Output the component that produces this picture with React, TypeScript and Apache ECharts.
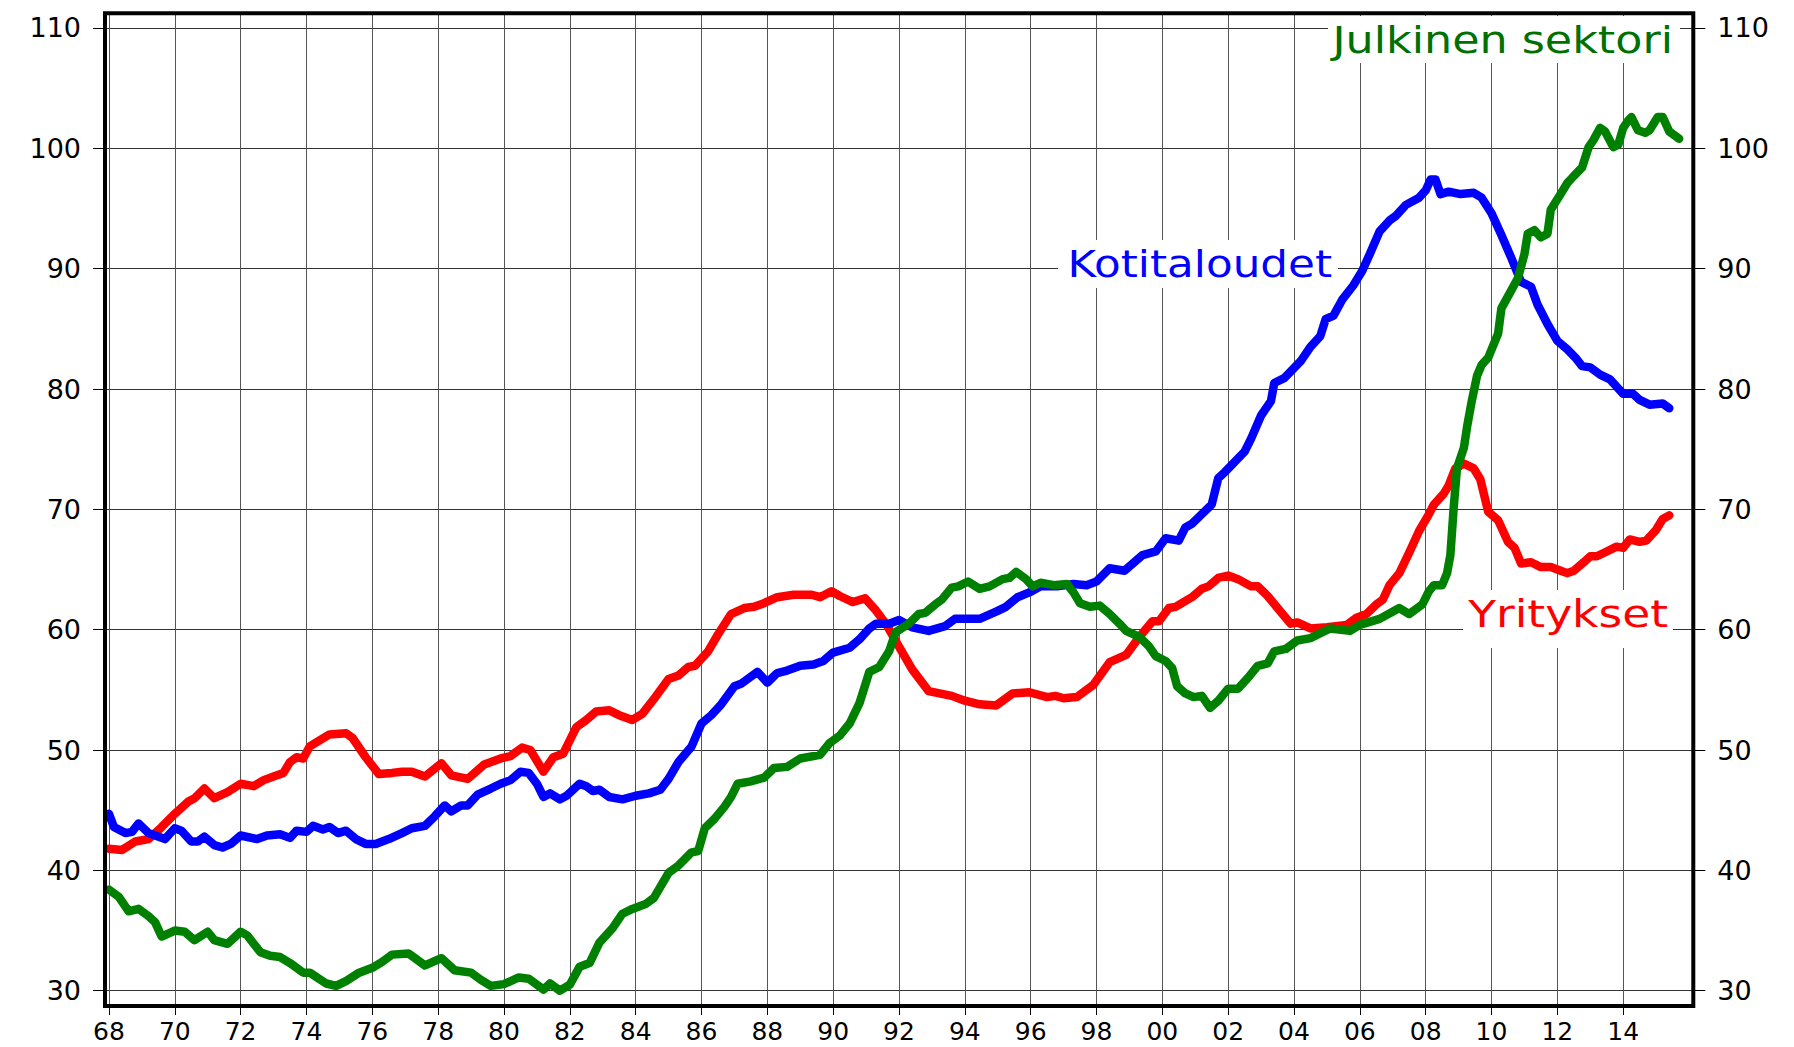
import React, { useEffect, useRef } from "react";
import * as echarts from "echarts";

// Years are given as 68 .. 115 (1900-based), labels shown as two digits
const xTicks = [68, 70, 72, 74, 76, 78, 80, 82, 84, 86, 88, 90, 92, 94, 96, 98, 100, 102, 104, 106, 108, 110, 112, 114];
const yTicks = [30, 40, 50, 60, 70, 80, 90, 100, 110];

const seriesNames = ["Yritykset", "Kotitaloudet", "Julkinen sektori"];

// Yritykset (red)
const yritykset: [number, number][] = [
  [68.0, 41.8], [68.4, 41.7], [68.8, 42.4], [69.2, 42.6], [69.6, 43.6], [70.0, 44.7], [70.4, 45.7], [70.6, 46.0],
  [70.9, 46.8], [71.2, 46.0], [71.6, 46.5], [72.0, 47.2], [72.4, 47.0], [72.7, 47.5], [73.0, 47.8], [73.3, 48.1],
  [73.5, 49.0], [73.7, 49.4], [73.9, 49.3], [74.1, 50.3], [74.4, 50.8], [74.7, 51.3], [75.2, 51.4], [75.4, 51.0],
  [75.8, 49.4], [76.2, 48.0], [76.6, 48.1], [76.9, 48.2], [77.2, 48.2], [77.6, 47.8], [78.1, 48.9], [78.4, 47.9],
  [78.9, 47.6], [79.4, 48.8], [79.9, 49.3], [80.2, 49.5], [80.55, 50.2], [80.8, 50.0], [81.2, 48.2], [81.5, 49.4],
  [81.8, 49.7], [82.2, 51.9], [82.5, 52.5], [82.8, 53.2], [83.2, 53.3], [83.5, 52.9], [83.9, 52.5], [84.2, 53.0],
  [84.6, 54.4], [85.0, 55.9], [85.3, 56.2], [85.6, 56.9], [85.8, 57.0], [86.2, 58.2], [86.5, 59.6], [86.9, 61.3],
  [87.3, 61.8], [87.6, 61.9], [87.9, 62.2], [88.3, 62.7], [88.8, 62.9], [89.35, 62.9], [89.6, 62.7], [89.95, 63.2],
  [90.2, 62.8], [90.6, 62.3], [90.97, 62.6], [91.3, 61.6], [91.6, 60.5], [92.0, 58.6], [92.4, 56.7], [92.9, 54.9],
  [93.6, 54.5], [94.0, 54.1], [94.45, 53.8], [94.95, 53.7], [95.45, 54.7], [95.96, 54.8], [96.5, 54.4], [96.75, 54.5],
  [97.0, 54.3], [97.4, 54.4], [97.9, 55.4], [98.4, 57.3], [98.9, 57.9], [99.3, 59.4], [99.7, 60.7], [99.9, 60.7],
  [100.2, 61.8], [100.4, 61.9], [100.9, 62.7], [101.2, 63.4], [101.4, 63.6], [101.7, 64.3], [102.0, 64.5], [102.3, 64.2],
  [102.7, 63.6], [102.9, 63.6], [103.2, 62.8], [103.5, 61.8], [103.9, 60.5], [104.1, 60.6], [104.5, 60.1], [105.0, 60.2],
  [105.6, 60.4], [105.9, 61.0], [106.2, 61.3], [106.5, 62.1], [106.7, 62.5], [106.9, 63.7], [107.2, 64.7], [107.5, 66.4],
  [107.8, 68.2], [108.1, 69.6], [108.25, 70.4], [108.55, 71.3], [108.7, 72.0], [108.9, 73.4], [109.16, 73.8], [109.46, 73.4],
  [109.66, 72.5], [109.9, 69.8], [110.2, 69.1], [110.5, 67.3], [110.7, 66.8], [110.9, 65.5], [111.2, 65.6], [111.5, 65.2],
  [111.8, 65.2], [112.1, 64.9], [112.3, 64.7], [112.5, 64.9], [112.8, 65.6], [113.0, 66.1], [113.2, 66.1], [113.5, 66.5],
  [113.8, 66.9], [114.0, 66.8], [114.2, 67.5], [114.5, 67.3], [114.7, 67.4], [115.0, 68.3], [115.2, 69.2], [115.4, 69.5],
];

// Kotitaloudet (blue)
const kotitaloudet: [number, number][] = [
  [68.0, 44.7], [68.15, 43.6], [68.5, 43.1], [68.7, 43.2], [68.9, 43.9], [69.2, 43.1], [69.7, 42.6], [70.0, 43.5],
  [70.2, 43.3], [70.5, 42.4], [70.7, 42.4], [70.9, 42.8], [71.2, 42.1], [71.45, 41.9], [71.7, 42.2], [72.0, 42.9],
  [72.5, 42.6], [72.8, 42.9], [73.2, 43.0], [73.5, 42.7], [73.7, 43.3], [74.0, 43.2], [74.2, 43.7], [74.5, 43.4],
  [74.7, 43.6], [74.96, 43.1], [75.2, 43.3], [75.5, 42.6], [75.8, 42.2], [76.1, 42.2], [76.5, 42.6], [76.9, 43.1],
  [77.2, 43.5], [77.6, 43.7], [77.9, 44.5], [78.2, 45.4], [78.4, 44.9], [78.7, 45.4], [78.9, 45.4], [79.2, 46.3],
  [79.6, 46.8], [79.9, 47.2], [80.2, 47.5], [80.5, 48.2], [80.75, 48.1], [81.0, 47.2], [81.2, 46.1], [81.4, 46.4],
  [81.7, 45.9], [81.9, 46.2], [82.3, 47.2], [82.5, 47.0], [82.7, 46.6], [82.9, 46.7], [83.2, 46.1], [83.6, 45.9],
  [84.0, 46.2], [84.4, 46.4], [84.75, 46.7], [85.0, 47.6], [85.3, 49.0], [85.7, 50.3], [86.0, 52.2], [86.3, 52.9],
  [86.6, 53.8], [87.0, 55.3], [87.2, 55.5], [87.7, 56.5], [88.0, 55.6], [88.3, 56.4], [88.6, 56.6], [89.0, 57.0],
  [89.4, 57.1], [89.7, 57.4], [90.0, 58.1], [90.5, 58.5], [90.8, 59.2], [91.1, 60.1], [91.3, 60.5], [91.7, 60.5],
  [92.0, 60.8], [92.4, 60.2], [92.9, 59.9], [93.4, 60.3], [93.7, 60.9], [94.45, 60.9], [94.95, 61.5], [95.25, 61.9],
  [95.6, 62.7], [95.96, 63.1], [96.3, 63.6], [96.8, 63.6], [97.3, 63.8], [97.7, 63.7], [98.0, 64.0], [98.4, 65.1],
  [98.85, 64.9], [99.4, 66.2], [99.8, 66.5], [100.1, 67.6], [100.5, 67.4], [100.7, 68.5], [100.9, 68.8], [101.5, 70.4],
  [101.7, 72.6], [101.9, 73.1], [102.5, 74.8], [102.7, 75.9], [103.0, 77.8], [103.3, 79.0], [103.4, 80.5], [103.7, 80.9],
  [104.2, 82.3], [104.5, 83.5], [104.8, 84.4], [104.96, 85.8], [105.2, 86.1], [105.46, 87.4], [105.8, 88.6], [106.07, 89.8],
  [106.3, 91.2], [106.6, 93.1], [106.9, 94.0], [107.1, 94.4], [107.4, 95.3], [107.8, 95.9], [108.0, 96.5], [108.15, 97.4],
  [108.3, 97.4], [108.45, 96.2], [108.7, 96.4], [109.06, 96.2], [109.46, 96.3], [109.7, 95.9], [110.0, 94.6], [110.3, 92.8],
  [110.6, 90.9], [110.9, 88.9], [111.2, 88.5], [111.4, 87.0], [111.7, 85.4], [112.0, 84.0], [112.3, 83.3], [112.55, 82.6],
  [112.75, 81.9], [113.0, 81.8], [113.3, 81.2], [113.6, 80.8], [113.8, 80.2], [114.0, 79.6], [114.3, 79.6], [114.5, 79.1],
  [114.8, 78.7], [115.2, 78.8], [115.4, 78.4],
];

// Julkinen sektori (green)
const julkinen: [number, number][] = [
  [68.0, 38.4], [68.3, 37.8], [68.6, 36.6], [68.9, 36.8], [69.2, 36.2], [69.4, 35.7], [69.6, 34.5], [70.0, 35.0],
  [70.3, 34.9], [70.6, 34.2], [71.0, 34.9], [71.2, 34.2], [71.6, 33.9], [72.0, 34.9], [72.2, 34.6], [72.6, 33.2],
  [72.9, 32.9], [73.2, 32.8], [73.5, 32.3], [73.9, 31.5], [74.1, 31.5], [74.6, 30.6], [74.9, 30.4], [75.2, 30.8],
  [75.6, 31.5], [76.0, 31.9], [76.3, 32.4], [76.6, 33.0], [77.1, 33.1], [77.3, 32.7], [77.6, 32.1], [78.1, 32.7],
  [78.5, 31.7], [79.0, 31.5], [79.3, 30.9], [79.6, 30.4], [80.0, 30.55], [80.45, 31.1], [80.75, 31.0], [81.2, 30.1],
  [81.4, 30.6], [81.7, 30.0], [82.0, 30.5], [82.3, 32.0], [82.6, 32.3], [82.9, 34.0], [83.3, 35.2], [83.6, 36.4],
  [83.9, 36.8], [84.3, 37.2], [84.55, 37.7], [85.0, 39.8], [85.3, 40.4], [85.7, 41.5], [85.9, 41.6], [86.1, 43.5],
  [86.4, 44.3], [86.7, 45.3], [86.9, 46.1], [87.1, 47.2], [87.5, 47.4], [87.9, 47.7], [88.2, 48.5], [88.6, 48.6],
  [89.0, 49.3], [89.6, 49.6], [89.9, 50.6], [90.2, 51.2], [90.5, 52.2], [90.8, 53.9], [91.1, 56.5], [91.4, 56.9],
  [91.7, 58.2], [91.9, 59.8], [92.3, 60.5], [92.6, 61.3], [92.8, 61.4], [93.1, 62.1], [93.3, 62.5], [93.6, 63.5],
  [93.8, 63.6], [94.1, 64.0], [94.45, 63.4], [94.75, 63.6], [95.15, 64.2], [95.35, 64.3], [95.56, 64.8], [95.86, 64.2],
  [96.06, 63.6], [96.3, 63.9], [96.7, 63.7], [97.1, 63.8], [97.3, 63.1], [97.5, 62.2], [97.8, 61.9], [98.1, 62.0],
  [98.4, 61.3], [98.7, 60.5], [98.9, 59.9], [99.3, 59.4], [99.6, 58.6], [99.8, 57.8], [100.1, 57.4], [100.3, 56.8],
  [100.45, 55.3], [100.7, 54.7], [100.95, 54.4], [101.2, 54.5], [101.45, 53.5], [101.7, 54.1], [102.0, 55.1], [102.3, 55.1],
  [102.6, 56.0], [102.9, 57.0], [103.2, 57.2], [103.4, 58.2], [103.75, 58.4], [104.1, 59.1], [104.5, 59.3], [104.8, 59.7],
  [105.1, 60.1], [105.7, 59.9], [106.0, 60.4], [106.6, 60.9], [107.2, 61.8], [107.5, 61.3], [107.9, 62.1], [108.1, 63.2],
  [108.25, 63.7], [108.5, 63.7], [108.65, 64.7], [108.75, 66.2], [108.85, 70.1], [108.95, 73.4], [109.16, 75.1], [109.26, 76.9],
  [109.4, 79.0], [109.56, 81.1], [109.7, 82.0], [109.9, 82.6], [110.2, 84.6], [110.3, 86.7], [110.5, 87.7], [110.8, 89.2],
  [111.0, 91.2], [111.1, 92.9], [111.3, 93.2], [111.5, 92.6], [111.7, 92.9], [111.8, 94.9], [112.1, 96.2], [112.3, 97.1],
  [112.5, 97.7], [112.75, 98.4], [112.95, 100.1], [113.1, 100.7], [113.3, 101.7], [113.45, 101.4], [113.7, 100.1], [113.85, 100.3],
  [114.0, 101.7], [114.15, 102.3], [114.25, 102.6], [114.45, 101.5], [114.67, 101.3], [114.8, 101.5], [115.05, 102.6], [115.2, 102.6],
  [115.4, 101.4], [115.7, 100.8],
];

const FONT = "DejaVu Sans";

function App() {
  const ref = useRef<HTMLDivElement>(null);

  useEffect(() => {
    if (!ref.current) return;
    const chart = echarts.init(ref.current, null, { renderer: "svg" });

    const gridLeft = 105;
    const gridRight = 1794 - 1693.3;
    const gridTop = 13.3;
    const gridBottom = 1047 - 1006;

    const yAxisCommon = {
      type: "value",
      min: 28.73,
      max: 111.22,
      axisLine: { show: false },
      axisTick: { show: true, customValues: yTicks, length: 12, inside: false, lineStyle: { color: "#000", width: 1 } },
      axisLabel: { customValues: yTicks, fontSize: 27, color: "#000", fontFamily: FONT, margin: 24 },
    };

    const lineSeries = (name: string, data: [number, number][], color: string) => ({
      type: "line",
      name,
      data,
      showSymbol: false,
      symbol: "none",
      clip: false,
      smooth: false,
      lineStyle: { color, width: 8.5, cap: "round", join: "round" },
      z: 5,
    });

    const labelBox = (x: number, y: number, w: number, h: number) => ({
      type: "rect",
      shape: { x, y, width: w, height: h },
      style: { fill: "#fff" },
      z: 90,
      silent: true,
    });

    const labelText = (text: string, right: number, cy: number, color: string, sx: number) => ({
      type: "text",
      x: right,
      y: cy,
      scaleX: sx,
      scaleY: 1,
      z: 95,
      silent: true,
      style: {
        text,
        fill: color,
        font: `normal 37px '${FONT}'`,
        textAlign: "right",
        textVerticalAlign: "middle",
      },
    });

    chart.setOption({
      animation: false,
      backgroundColor: "#fff",
      grid: { left: gridLeft, right: gridRight, top: gridTop, bottom: gridBottom, show: false, containLabel: false },
      xAxis: {
        type: "value",
        min: 67.88,
        max: 116.13,
        axisLine: { show: false },
        axisTick: { show: true, customValues: xTicks, length: 9, inside: false, lineStyle: { color: "#000", width: 1 } },
        axisLabel: {
          customValues: xTicks,
          fontSize: 25,
          color: "#000",
          fontFamily: FONT,
          margin: 13,
          formatter: (v: number) => String(Math.round(v) % 100).padStart(2, "0"),
        },
        splitLine: { show: true, lineStyle: { color: "#555", width: 1 } },
      },
      yAxis: [
        { ...yAxisCommon, position: "left", splitLine: { show: true, lineStyle: { color: "#333", width: 1 } } },
        { ...yAxisCommon, position: "right", splitLine: { show: false } },
      ],
      series: [
        lineSeries(seriesNames[0], yritykset, "#ff0000"),
        lineSeries(seriesNames[1], kotitaloudet, "#0000ff"),
        lineSeries(seriesNames[2], julkinen, "#008000"),
      ],
      graphic: [
        {
          type: "rect",
          shape: { x: gridLeft, y: gridTop, width: 1693.3 - gridLeft, height: 1006 - gridTop },
          style: { fill: "none", stroke: "#000", lineWidth: 4 },
          z: 80,
          silent: true,
        },
        labelBox(1328, 16, 352, 47),
        labelText(seriesNames[2], 1673, 40, "#007000", 1.2),
        labelBox(1058, 240, 280, 48),
        labelText(seriesNames[1], 1332, 264, "#0000ff", 1.18),
        labelBox(1463, 590, 210, 58),
        labelText(seriesNames[0], 1668, 615, "#ff0000", 1.23),
      ],
    });

    return () => chart.dispose();
  }, []);

  return (
    <div
      ref={ref}
      style={{ position: "fixed", left: 0, top: 0, width: 1794, height: 1047, background: "#fff" }}
    />
  );
}

export default App;
